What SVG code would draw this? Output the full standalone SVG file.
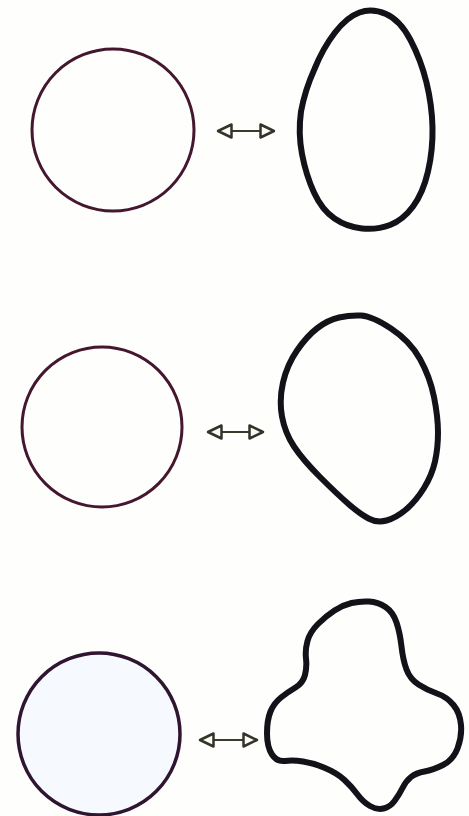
<svg xmlns="http://www.w3.org/2000/svg" width="469" height="816" viewBox="0 0 469 816">
<style>
.circ{fill:none;stroke:#45172f;stroke-width:3}
.blob{fill:none;stroke:#121218;stroke-width:6;stroke-linejoin:round}
.conn{stroke:#3b3a2c;stroke-width:2.2;fill:none;marker-start:url(#head);marker-end:url(#head)}
</style>
<defs>
<marker id="head" markerUnits="userSpaceOnUse" markerWidth="18" markerHeight="18" viewBox="0 0 18 18" refX="15.5" refY="9" orient="auto-start-reverse">
<path d="M2,2.5 L15.5,9 L2,15.5 Z" fill="#fbfbf4" stroke="#34332a" stroke-width="2.5" stroke-linejoin="round"/>
</marker>
</defs>
<rect width="469" height="816" fill="#fefefd"/>
<g id="circle1"><circle class="circ" cx="113" cy="130" r="81"/></g>
<g id="egg"><path class="blob" d="M386,14 Q400,20 410.5,40 Q421,60 426.5,82.5 Q432,105 432.5,127.5 Q433,150 428,171.5 Q423,193 413,206.5 Q403,220 390,225 Q377,230 362,228.5 Q347,227 334.5,218.5 Q322,210 314,192.5 Q306,175 302,154 Q298,133 301,111.5 Q305,90 314.5,69 Q323,48 335,32.5 Q347,17 359.5,12.5 Q372,8 386,14 Z"/></g>
<g id="circle2"><circle class="circ" cx="102" cy="427" r="80"/></g>
<g id="blob2"><path class="blob" d="M361,315.5 Q372,316 391,328.5 Q410,341 420,359 Q430,377 434,397 Q438,417 438,432.5 Q438,448 435,461.5 Q432,475 424,488 Q416,501 406,509.5 Q396,518 386.5,520.5 Q377,523 368.5,518.5 Q360,514 348.5,504 Q337,494 320,477 Q303,460 294,446.5 Q285,433 282,416.5 Q279,400 283,382.5 Q287,365 297,350.5 Q307,336 317.5,328 Q328,320 339,317.5 Q350,315 361,315.5 Z"/></g>
<g id="circle3"><circle cx="99" cy="734" r="81" fill="#f6f9fe" stroke="#2f1530" stroke-width="3.5"/></g>
<g id="blob3"><path class="blob" d="M351.5,603 Q360,601 369,601.5 Q378,602 385.5,607 Q393,612 396.5,622.5 Q400,633 401.5,646.5 Q403,660 406.5,669.5 Q410,679 418.5,684.5 Q427,690 437,693.5 Q447,697 453.5,705 Q460,713 461,725 Q462,737 457.5,748.5 Q453,760 443,765 Q433,770 424.5,771.5 Q416,773 411,777 Q406,781 402.5,788 Q399,795 394.5,801 Q390,807 383.5,808.5 Q377,810 370,806 Q363,802 357.5,794.5 Q352,787 344.5,780 Q337,773 325,768 Q313,763 303,761.5 Q293,760 285,761 Q277,762 272,754.5 Q267,747 267,733.5 Q267,720 270.5,711.5 Q274,703 281,697.5 Q288,692 295.5,687.5 Q303,683 305,675 Q307,667 306,658.5 Q305,650 307.5,641 Q310,632 318,624 Q326,616 334.5,610.5 Q343,605 351.5,603 Z"/></g>
<g id="connectors">
<line class="conn" x1="218" y1="131" x2="274" y2="131"/>
<line class="conn" x1="208" y1="432" x2="263" y2="432"/>
<line class="conn" x1="200" y1="740" x2="257" y2="740"/>
</g>
</svg>
